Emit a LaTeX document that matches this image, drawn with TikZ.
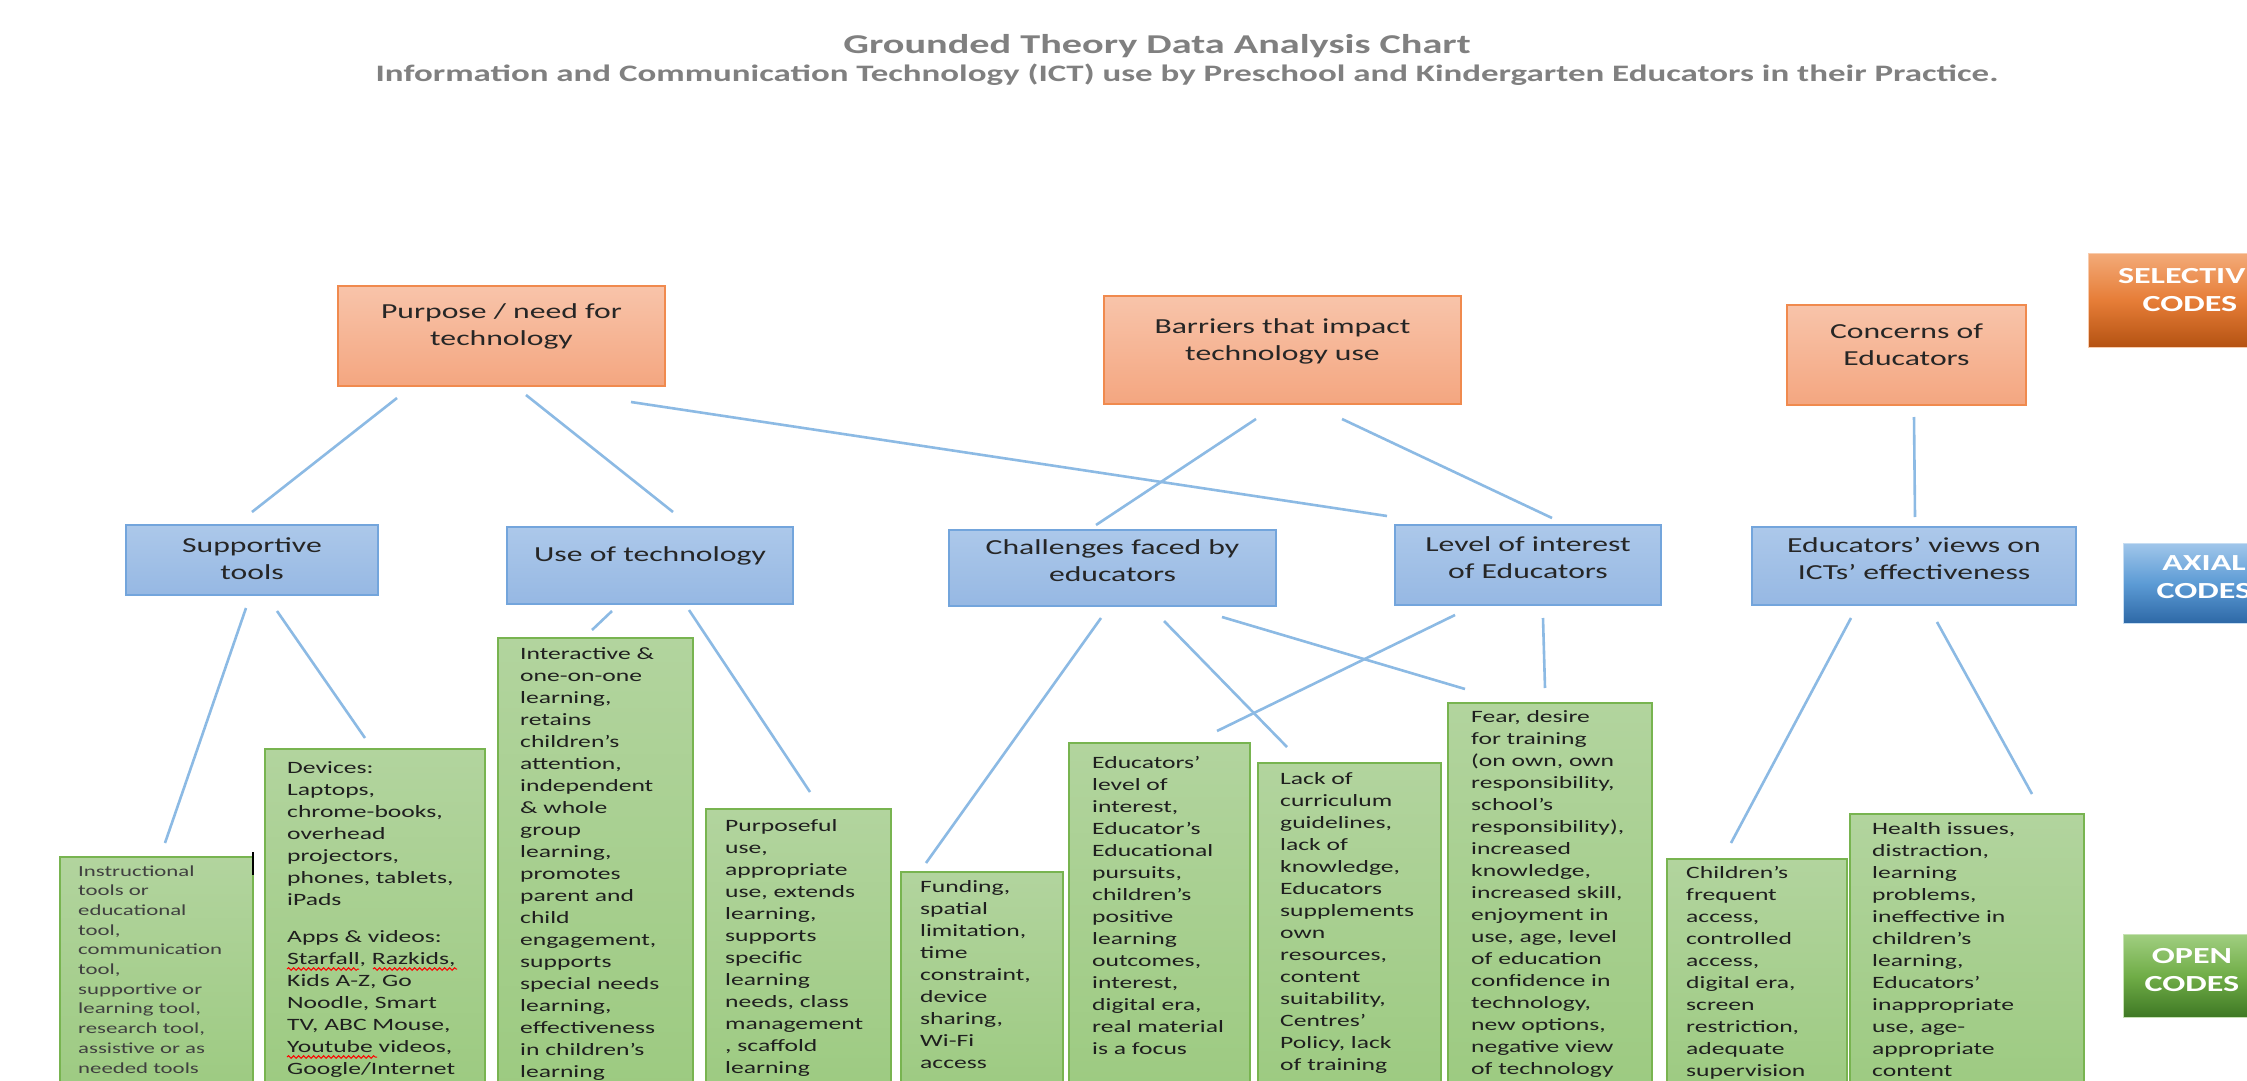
\documentclass[tikz,border=0pt]{standalone}
\usepackage{fontspec}
\setmainfont[FakeStretch=1.48]{Carlito}
\usetikzlibrary{calc,decorations.pathmorphing}
\definecolor{seltop}{RGB}{248,196,170}
\definecolor{selbot}{RGB}{244,166,128}
\definecolor{selborder}{RGB}{240,138,78}
\definecolor{axtop}{RGB}{172,200,234}
\definecolor{axbot}{RGB}{150,184,227}
\definecolor{axborder}{RGB}{115,165,220}
\definecolor{optop}{RGB}{178,212,158}
\definecolor{opbot}{RGB}{156,202,128}
\definecolor{opborder}{RGB}{120,180,80}
\definecolor{connblue}{RGB}{140,186,228}
\definecolor{titlegrey}{RGB}{128,128,128}
\definecolor{lgselA}{RGB}{243,170,120}
\definecolor{lgselB}{RGB}{230,125,55}
\definecolor{lgselC}{RGB}{180,82,18}
\definecolor{lgaxA}{RGB}{160,198,234}
\definecolor{lgaxB}{RGB}{92,155,213}
\definecolor{lgaxC}{RGB}{45,104,166}
\definecolor{lgopA}{RGB}{160,206,128}
\definecolor{lgopB}{RGB}{112,173,71}
\definecolor{lgopC}{RGB}{62,120,36}
\begin{document}
\begin{tikzpicture}[x=1pt,y=-1pt,
  selbox/.style={draw=selborder, line width=2pt, top color=seltop, bottom color=selbot, anchor=north west, inner sep=0pt},
  axbox/.style={draw=axborder, line width=2pt, top color=axtop, bottom color=axbot, anchor=north west, inner sep=0pt},
  opbox/.style={draw=opborder, line width=2pt, top color=optop, bottom color=opbot, anchor=north west, inner sep=0pt},
  bigtext/.style={font=\fontsize{21.4}{27}\selectfont, align=center, anchor=north, inner sep=0pt, text=black!85},
  smalltext/.style={font=\fontsize{17.3}{22}\selectfont, align=left, anchor=north west, inner sep=0pt, text=black!88},
  tinytext/.style={font=\fontsize{15.4}{19.7}\selectfont, align=left, anchor=north west, inner sep=0pt, text=black!75},
  conn/.style={draw=connblue, line width=2.6pt},
  spellmark/.style={draw=red, line width=1pt, decorate, decoration={snake, amplitude=1.3pt, segment length=5pt}},
  legendtext/.style={inner sep=0pt, font=\bfseries\fontsize{23}{28}\selectfont, text=white, align=center},
  titletext/.style={inner sep=0pt, text=titlegrey, font=\bfseries\fontsize{27.2}{31}\selectfont},
  subtitletext/.style={inner sep=0pt, text=titlegrey, font=\bfseries\fontsize{23.6}{28}\selectfont}
]
\useasboundingbox (0,0) rectangle (2247,1081);
\clip (0,0) rectangle (2247,1081);
\fill[white] (0,0) rectangle (2247,1081);

% titles
\node[titletext] (title) at (1157,46) {Grounded Theory Data Analysis Chart};
\node[subtitletext] (subtitle) at (1187,75) {Information and Communication Technology (ICT) use by Preschool and Kindergarten Educators in their Practice.};

% legends
\node[anchor=north west, inner sep=0pt, minimum width=205, minimum height=94, top color=lgselA, bottom color=lgselC, middle color=lgselB, draw=lgselA!60!white, line width=1pt] (lgsel) at (2088,253) {};
\node[legendtext] (lgsel-t) at (2190,290) {SELECTIVE\\CODES};
\node[anchor=north west, inner sep=0pt, minimum width=162, minimum height=80, top color=lgaxA, bottom color=lgaxC, middle color=lgaxB, draw=lgaxA!60!white, line width=1pt] (lgax) at (2123,543) {};
\node[legendtext] (lgax-t) at (2204,577) {AXIAL\\CODES};
\node[anchor=north west, inner sep=0pt, minimum width=138, minimum height=83, top color=lgopA, bottom color=lgopC, middle color=lgopB, draw=lgopA!60!white, line width=1pt] (lgop) at (2123,934) {};
\node[legendtext] (lgop-t) at (2192,970) {OPEN\\CODES};

% selective codes
\node[selbox, minimum width=327, minimum height=100] (purpose) at (337,285) {};
\node[bigtext] (purpose-t) at ([yshift=-14pt]purpose.north) {\strut Purpose / need for\\technology};
\node[selbox, minimum width=357, minimum height=108] (barriers) at (1103,295) {};
\node[bigtext] (barriers-t) at ([yshift=-19pt]barriers.north) {\strut Barriers that impact\\technology use};
\node[selbox, minimum width=239, minimum height=100] (concerns) at (1786,304) {};
\node[bigtext] (concerns-t) at ([yshift=-15pt]concerns.north) {\strut Concerns of\\Educators};

% axial codes
\node[axbox, minimum width=252, minimum height=70] (supp) at (125,524) {};
\node[bigtext] (supp-t) at ([yshift=-9pt]supp.north) {\strut Supportive\\tools};
\node[axbox, minimum width=286, minimum height=77] (use) at (506,526) {};
\node[bigtext] (use-t) at ([yshift=-16pt]use.north) {\strut Use of technology};
\node[axbox, minimum width=327, minimum height=76] (chall) at (948,529) {};
\node[bigtext] (chall-t) at ([yshift=-6pt]chall.north) {\strut Challenges faced by\\educators};
\node[axbox, minimum width=266, minimum height=80] (level) at (1394,524) {};
\node[bigtext] (level-t) at ([yshift=-8pt]level.north) {\strut Level of interest\\of Educators};
\node[axbox, minimum width=324, minimum height=78] (views) at (1751,526) {};
\node[bigtext] (views-t) at ([yshift=-7pt]views.north) {\strut Educators’ views on\\ICTs’ effectiveness};

% open codes
\node[opbox, minimum width=193, minimum height=244] (instr) at (59,856) {};
\node[tinytext] (instr-t) at ([shift={(19,6)}]instr.north west) {\strut Instructional\\tools or\\educational\\tool,\\communication\\tool,\\supportive or\\learning tool,\\research tool,\\assistive or as\\needed tools};
\draw[black, line width=2.5pt] (253,852) -- (253,875);

\node[opbox, minimum width=220, minimum height=352] (devices) at (264,748) {};
\node[smalltext] (devices-t) at ([shift={(23,10)}]devices.north west) {\strut Devices:\\Laptops,\\chrome-books,\\overhead\\projectors,\\phones, tablets,\\iPads\\[15pt]Apps \& videos:\\Starfall, Razkids,\\Kids A-Z, Go\\Noodle, Smart\\TV, ABC Mouse,\\Youtube videos,\\Google/Internet};
\draw[spellmark] ([shift={(0,211)}]devices-t.north west) -- ++(72,0);
\draw[spellmark] ([shift={(86,211)}]devices-t.north west) -- ++(84,0);
\draw[spellmark] ([shift={(0,299)}]devices-t.north west) -- ++(90,0);

\node[opbox, minimum width=195, minimum height=463] (inter) at (497,637) {};
\node[smalltext] (inter-t) at ([shift={(23,7)}]inter.north west) {\strut Interactive \&\\one-on-one\\learning,\\retains\\children’s\\attention,\\independent\\\& whole\\group\\learning,\\promotes\\parent and\\child\\engagement,\\supports\\special needs\\learning,\\effectiveness\\in children’s\\learning};

\node[opbox, minimum width=185, minimum height=292] (purp) at (705,808) {};
\node[smalltext] (purp-t) at ([shift={(20,8)}]purp.north west) {\strut Purposeful\\use,\\appropriate\\use, extends\\learning,\\supports\\specific\\learning\\needs, class\\management\\, scaffold\\learning};

\node[opbox, minimum width=162, minimum height=229] (fund) at (900,871) {};
\node[smalltext] (fund-t) at ([shift={(20,6)}]fund.north west) {\strut Funding,\\spatial\\limitation,\\time\\constraint,\\device\\sharing,\\Wi-Fi\\access};

\node[opbox, minimum width=181, minimum height=358] (edlev) at (1068,742) {};
\node[smalltext] (edlev-t) at ([shift={(24,11)}]edlev.north west) {\strut Educators’\\level of\\interest,\\Educator’s\\Educational\\pursuits,\\children’s\\positive\\learning\\outcomes,\\interest,\\digital era,\\real material\\is a focus};

\node[opbox, minimum width=183, minimum height=338] (lack) at (1257,762) {};
\node[smalltext] (lack-t) at ([shift={(23,7)}]lack.north west) {\strut Lack of\\curriculum\\guidelines,\\lack of\\knowledge,\\Educators\\supplements\\own\\resources,\\content\\suitability,\\Centres’\\Policy, lack\\of training};

\node[opbox, minimum width=204, minimum height=398] (fear) at (1447,702) {};
\node[smalltext] (fear-t) at ([shift={(24,5)}]fear.north west) {\strut Fear, desire\\for training\\(on own, own\\responsibility,\\school’s\\responsibility),\\increased\\knowledge,\\increased skill,\\enjoyment in\\use, age, level\\of education\\confidence in\\technology,\\new options,\\negative view\\of technology};

\node[opbox, minimum width=180, minimum height=242] (child) at (1666,858) {};
\node[smalltext] (child-t) at ([shift={(20,5)}]child.north west) {\strut Children’s\\frequent\\access,\\controlled\\access,\\digital era,\\screen\\restriction,\\adequate\\supervision};

\node[opbox, minimum width=234, minimum height=287] (health) at (1849,813) {};
\node[smalltext] (health-t) at ([shift={(23,6)}]health.north west) {\strut Health issues,\\distraction,\\learning\\problems,\\ineffective in\\children’s\\learning,\\Educators’\\inappropriate\\use, age-\\appropriate\\content};

% connectors selective -> axial
\draw[conn] ([shift={(60,11)}]purpose.south west) -- ([shift={(127,-12)}]supp.north west);
\draw[conn] ([shift={(189,8)}]purpose.south west) -- ([shift={(167,-14)}]use.north west);
\draw[conn] ([shift={(294,15)}]purpose.south west) -- ([shift={(-7,-8)}]level.north west);
\draw[conn] ([shift={(153,14)}]barriers.south west) -- ([shift={(148,-4)}]chall.north west);
\draw[conn] ([shift={(239,14)}]barriers.south west) -- ([shift={(158,-6)}]level.north west);
\draw[conn] ([shift={(128,11)}]concerns.south west) -- ([shift={(164,-9)}]views.north west);
% connectors axial -> open
\draw[conn] ([shift={(121,12)}]supp.south west) -- ([shift={(106,-13)}]instr.north west);
\draw[conn] ([shift={(152,15)}]supp.south west) -- ([shift={(101,-10)}]devices.north west);
\draw[conn] ([shift={(106,6)}]use.south west) -- ([shift={(95,-7)}]inter.north west);
\draw[conn] ([shift={(183,5)}]use.south west) -- ([shift={(105,-16)}]purp.north west);
\draw[conn] ([shift={(153,11)}]chall.south west) -- ([shift={(26,-8)}]fund.north west);
\draw[conn] ([shift={(216,14)}]chall.south west) -- ([shift={(30,-15)}]lack.north west);
\draw[conn] ([shift={(61,9)}]level.south west) -- ([shift={(149,-11)}]edlev.north west);
\draw[conn] ([shift={(274,10)}]chall.south west) -- ([shift={(18,-13)}]fear.north west);
\draw[conn] ([shift={(149,12)}]level.south west) -- ([shift={(98,-14)}]fear.north west);
\draw[conn] ([shift={(100,12)}]views.south west) -- ([shift={(65,-15)}]child.north west);
\draw[conn] ([shift={(186,16)}]views.south west) -- ([shift={(183,-19)}]health.north west);
\end{tikzpicture}
\end{document}
